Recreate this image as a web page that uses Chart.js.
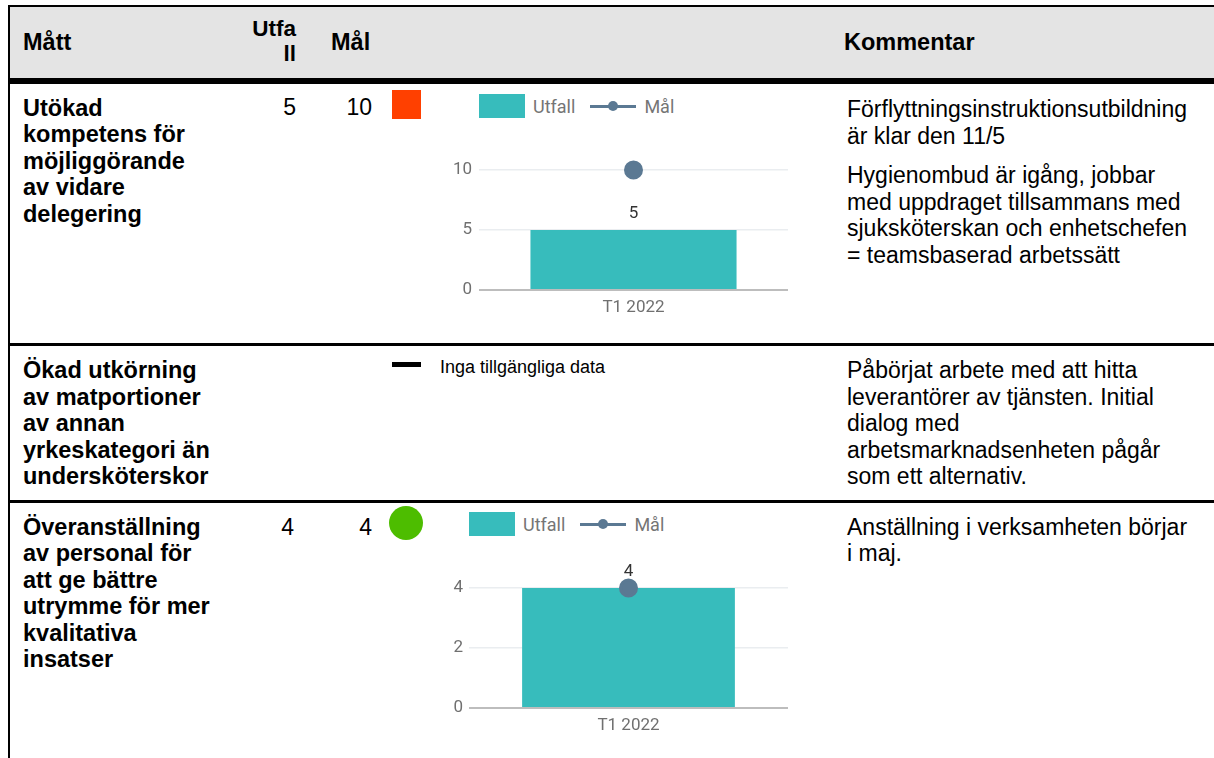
<!DOCTYPE html>
<html>
<head>
<meta charset="utf-8">
<script src="https://cdn.jsdelivr.net/npm/chart.js@4.4.1/dist/chart.umd.min.js"></script>
<style>
html,body{margin:0;padding:0;background:#fff;}
body{width:1214px;height:758px;position:relative;overflow:hidden;font-family:"Liberation Sans",Arial,sans-serif;color:#000;}
.abs{position:absolute;}
.b{font-weight:bold;font-size:23.5px;line-height:26.5px;white-space:nowrap;}
.r{font-size:23px;line-height:26.5px;white-space:nowrap;}
.hline{position:absolute;left:10px;right:0;background:#000;}
.legend{position:absolute;display:flex;align-items:center;font-family:Roboto,sans-serif;font-size:18px;color:#757575;height:24px;white-space:nowrap;}
.legend .box{width:46px;height:24px;background:#37bcbc;margin-right:8px;}
.legend .sw{position:relative;width:46px;height:3px;background:#5b7993;margin-left:15px;margin-right:8px;}
.legend .sw i{position:absolute;left:18px;top:-3.5px;width:10px;height:10px;border-radius:50%;background:#5b7993;}
canvas{position:absolute;}
</style>
</head>
<body>
<!-- table frame -->
<div class="abs" style="left:10px;right:0;top:7px;height:71px;background:#e4e4e4"></div>
<div class="hline" style="top:5px;height:2px;left:8px"></div>
<div class="abs" style="left:7.5px;top:5px;width:2.5px;bottom:0;background:#000"></div>
<div class="hline" style="top:78px;height:6px"></div>
<div class="hline" style="top:343.3px;height:2.7px"></div>
<div class="hline" style="top:500px;height:2.5px"></div>

<!-- header -->
<div class="abs b" style="left:23px;top:29px">Mått</div>
<div class="abs b" style="left:230px;width:66px;top:16.5px;font-size:22.5px;line-height:24.6px;height:24.6px;text-align:right">Utfa</div>
<div class="abs b" style="left:230px;width:66px;top:41.5px;font-size:22.5px;line-height:24.6px;height:24.6px;text-align:right">ll</div>
<div class="abs b" style="left:331px;top:29px">Mål</div>
<div class="abs b" style="left:844px;top:29px">Kommentar</div>

<!-- column 1 -->
<div class="abs b" style="left:23px;top:94.5px">Utökad<br>kompetens för<br>möjliggörande<br>av vidare<br>delegering</div>
<div class="abs b" style="left:23px;top:357px">Ökad utkörning<br>av matportioner<br>av annan<br>yrkeskategori än<br>undersköterskor</div>
<div class="abs b" style="left:23px;top:513.5px">Överanställning<br>av personal för<br>att ge bättre<br>utrymme för mer<br>kvalitativa<br>insatser</div>

<!-- status indicators -->
<div class="abs" style="left:392px;top:90px;width:29px;height:29px;background:#ff4000"></div>
<div class="abs" style="left:392px;top:362px;width:29px;height:5px;background:#000"></div>
<div class="abs" style="left:440px;top:357px;font-size:18px;line-height:20px;white-space:nowrap">Inga tillgängliga data</div>
<div class="abs" style="left:389px;top:505.5px;width:34px;height:34px;border-radius:50%;background:#4dbd00"></div>

<!-- comments -->
<div class="abs r" style="left:847px;top:96px">Förflyttningsinstruktionsutbildning<br>är klar den 11/5</div>
<div class="abs r" style="left:847px;top:162px">Hygienombud är igång, jobbar<br>med uppdraget tillsammans med<br>sjuksköterskan och enhetschefen<br>= teamsbaserad arbetssätt</div>
<div class="abs r" style="left:847px;top:357px">Påbörjat arbete med att hitta<br>leverantörer av tjänsten. Initial<br>dialog med<br>arbetsmarknadsenheten pågår<br>som ett alternativ.</div>
<div class="abs r" style="left:847px;top:513.5px">Anställning i verksamheten börjar<br>i maj.</div>

<div id="nums"></div>

<!-- legends -->
<div class="legend" id="leg1" style="left:479px;top:94px"></div>
<div class="legend" id="leg2" style="left:469px;top:512px"></div>

<canvas id="c1" width="348" height="174" style="left:440px;top:146px;width:348px;height:174px"></canvas>
<canvas id="c2" width="358" height="180" style="left:430px;top:558px;width:358px;height:180px"></canvas>

<script>
// ---- data ----
const categories = ['T1 2022'];
const seriesNames = ['Utfall', 'Mål'];

const chart1Utfall = [5];
const chart1Mal = [10];
const chart1YTicks = [0, 5, 10];
const chart1YMax = 12;

const chart2Utfall = [4];
const chart2Mal = [4];
const chart2YTicks = [0, 2, 4];
const chart2YMax = 5;

const tableUtfall = [5, null, 4];
const tableMal = [10, null, 4];

// ---- table numbers ----
const rowTops = [93.7, 357, 513.5];
const numsEl = document.getElementById('nums');
tableUtfall.forEach((v, i) => {
  if (v === null) return;
  const d = document.createElement('div');
  d.className = 'abs r';
  d.style.cssText = 'left:200px;width:' + (i === 0 ? 96 : 94) + 'px;text-align:right;top:' + rowTops[i] + 'px';
  d.textContent = v;
  numsEl.appendChild(d);
});
tableMal.forEach((v, i) => {
  if (v === null) return;
  const d = document.createElement('div');
  d.className = 'abs r';
  d.style.cssText = 'left:300px;width:72px;text-align:right;top:' + rowTops[i] + 'px';
  d.textContent = v;
  numsEl.appendChild(d);
});

// ---- legends (HTML) ----
function buildLegend(id) {
  const el = document.getElementById(id);
  el.innerHTML = '<span class="box"></span><span>' + seriesNames[0] + '</span>' +
    '<span class="sw"><i></i></span><span>' + seriesNames[1] + '</span>';
}
buildLegend('leg1');
buildLegend('leg2');

// ---- charts ----
const TEAL = '#37bcbc';
const SLATE = '#5b7993';

const valueLabelPlugin = {
  id: 'valueLabel',
  afterDatasetsDraw(chart) {
    const ctx = chart.ctx;
    const meta = chart.getDatasetMeta(0);
    const ds = chart.data.datasets[0];
    ctx.save();
    ctx.font = '17px Roboto, sans-serif';
    ctx.fillStyle = '#333333';
    ctx.textAlign = 'center';
    ctx.textBaseline = 'middle';
    meta.data.forEach((el, i) => {
      ctx.fillText(String(ds.data[i]), el.x, el.y - 16);
    });
    ctx.restore();
  }
};

function makeChart(id, utfall, mal, yTicks, yMax, tickPad) {
  return new Chart(document.getElementById(id), {
    type: 'bar',
    data: {
      labels: categories,
      datasets: [
        { type: 'bar', label: seriesNames[0], data: utfall, backgroundColor: TEAL,
          borderWidth: 0, barPercentage: 0.667, categoryPercentage: 1, order: 1 },
        { type: 'line', label: seriesNames[1], data: mal, borderColor: SLATE,
          backgroundColor: SLATE, pointBackgroundColor: SLATE, pointBorderColor: SLATE,
          pointRadius: 8, pointHoverRadius: 8, borderWidth: 3, showLine: false, order: 0,
          clip: false }
      ]
    },
    options: {
      responsive: false,
      animation: false,
      events: [],
      layout: { padding: 0, autoPadding: false },
      plugins: { legend: { display: false }, tooltip: { enabled: false } },
      scales: {
        x: {
          grid: { display: false, drawTicks: false },
          border: { display: false },
          ticks: { color: '#707070', font: { size: 17 }, padding: 8, maxRotation: 0 },
          afterFit(s) { s.height = 30; s.paddingLeft = 0; s.paddingRight = 0; }
        },
        y: {
          min: 0, max: yMax,
          grid: {
            drawTicks: false,
            color: (c) => (c.tick && c.tick.value === 0 ? '#bdbdbd' : '#eaedf0'),
            lineWidth: (c) => (c.tick && c.tick.value === 0 ? 2 : 1.5)
          },
          border: { display: false },
          ticks: { color: '#707070', font: { size: 17 }, padding: tickPad },
          afterBuildTicks(s) { s.ticks = yTicks.map(v => ({ value: v })); },
          afterFit(s) { s.width = 39; s.paddingTop = 0; s.paddingBottom = 0; }
        }
      }
    },
    plugins: [valueLabelPlugin]
  });
}

function init() {
  Chart.defaults.font.family = 'Roboto, sans-serif';
  makeChart('c1', chart1Utfall, chart1Mal, chart1YTicks, chart1YMax, 7);
  makeChart('c2', chart2Utfall, chart2Mal, chart2YTicks, chart2YMax, 6);
}
if (document.fonts && document.fonts.load) {
  Promise.all([document.fonts.load('17px Roboto'), document.fonts.load('18px Roboto')])
    .then(init, init);
} else {
  init();
}
</script>
</body>
</html>
